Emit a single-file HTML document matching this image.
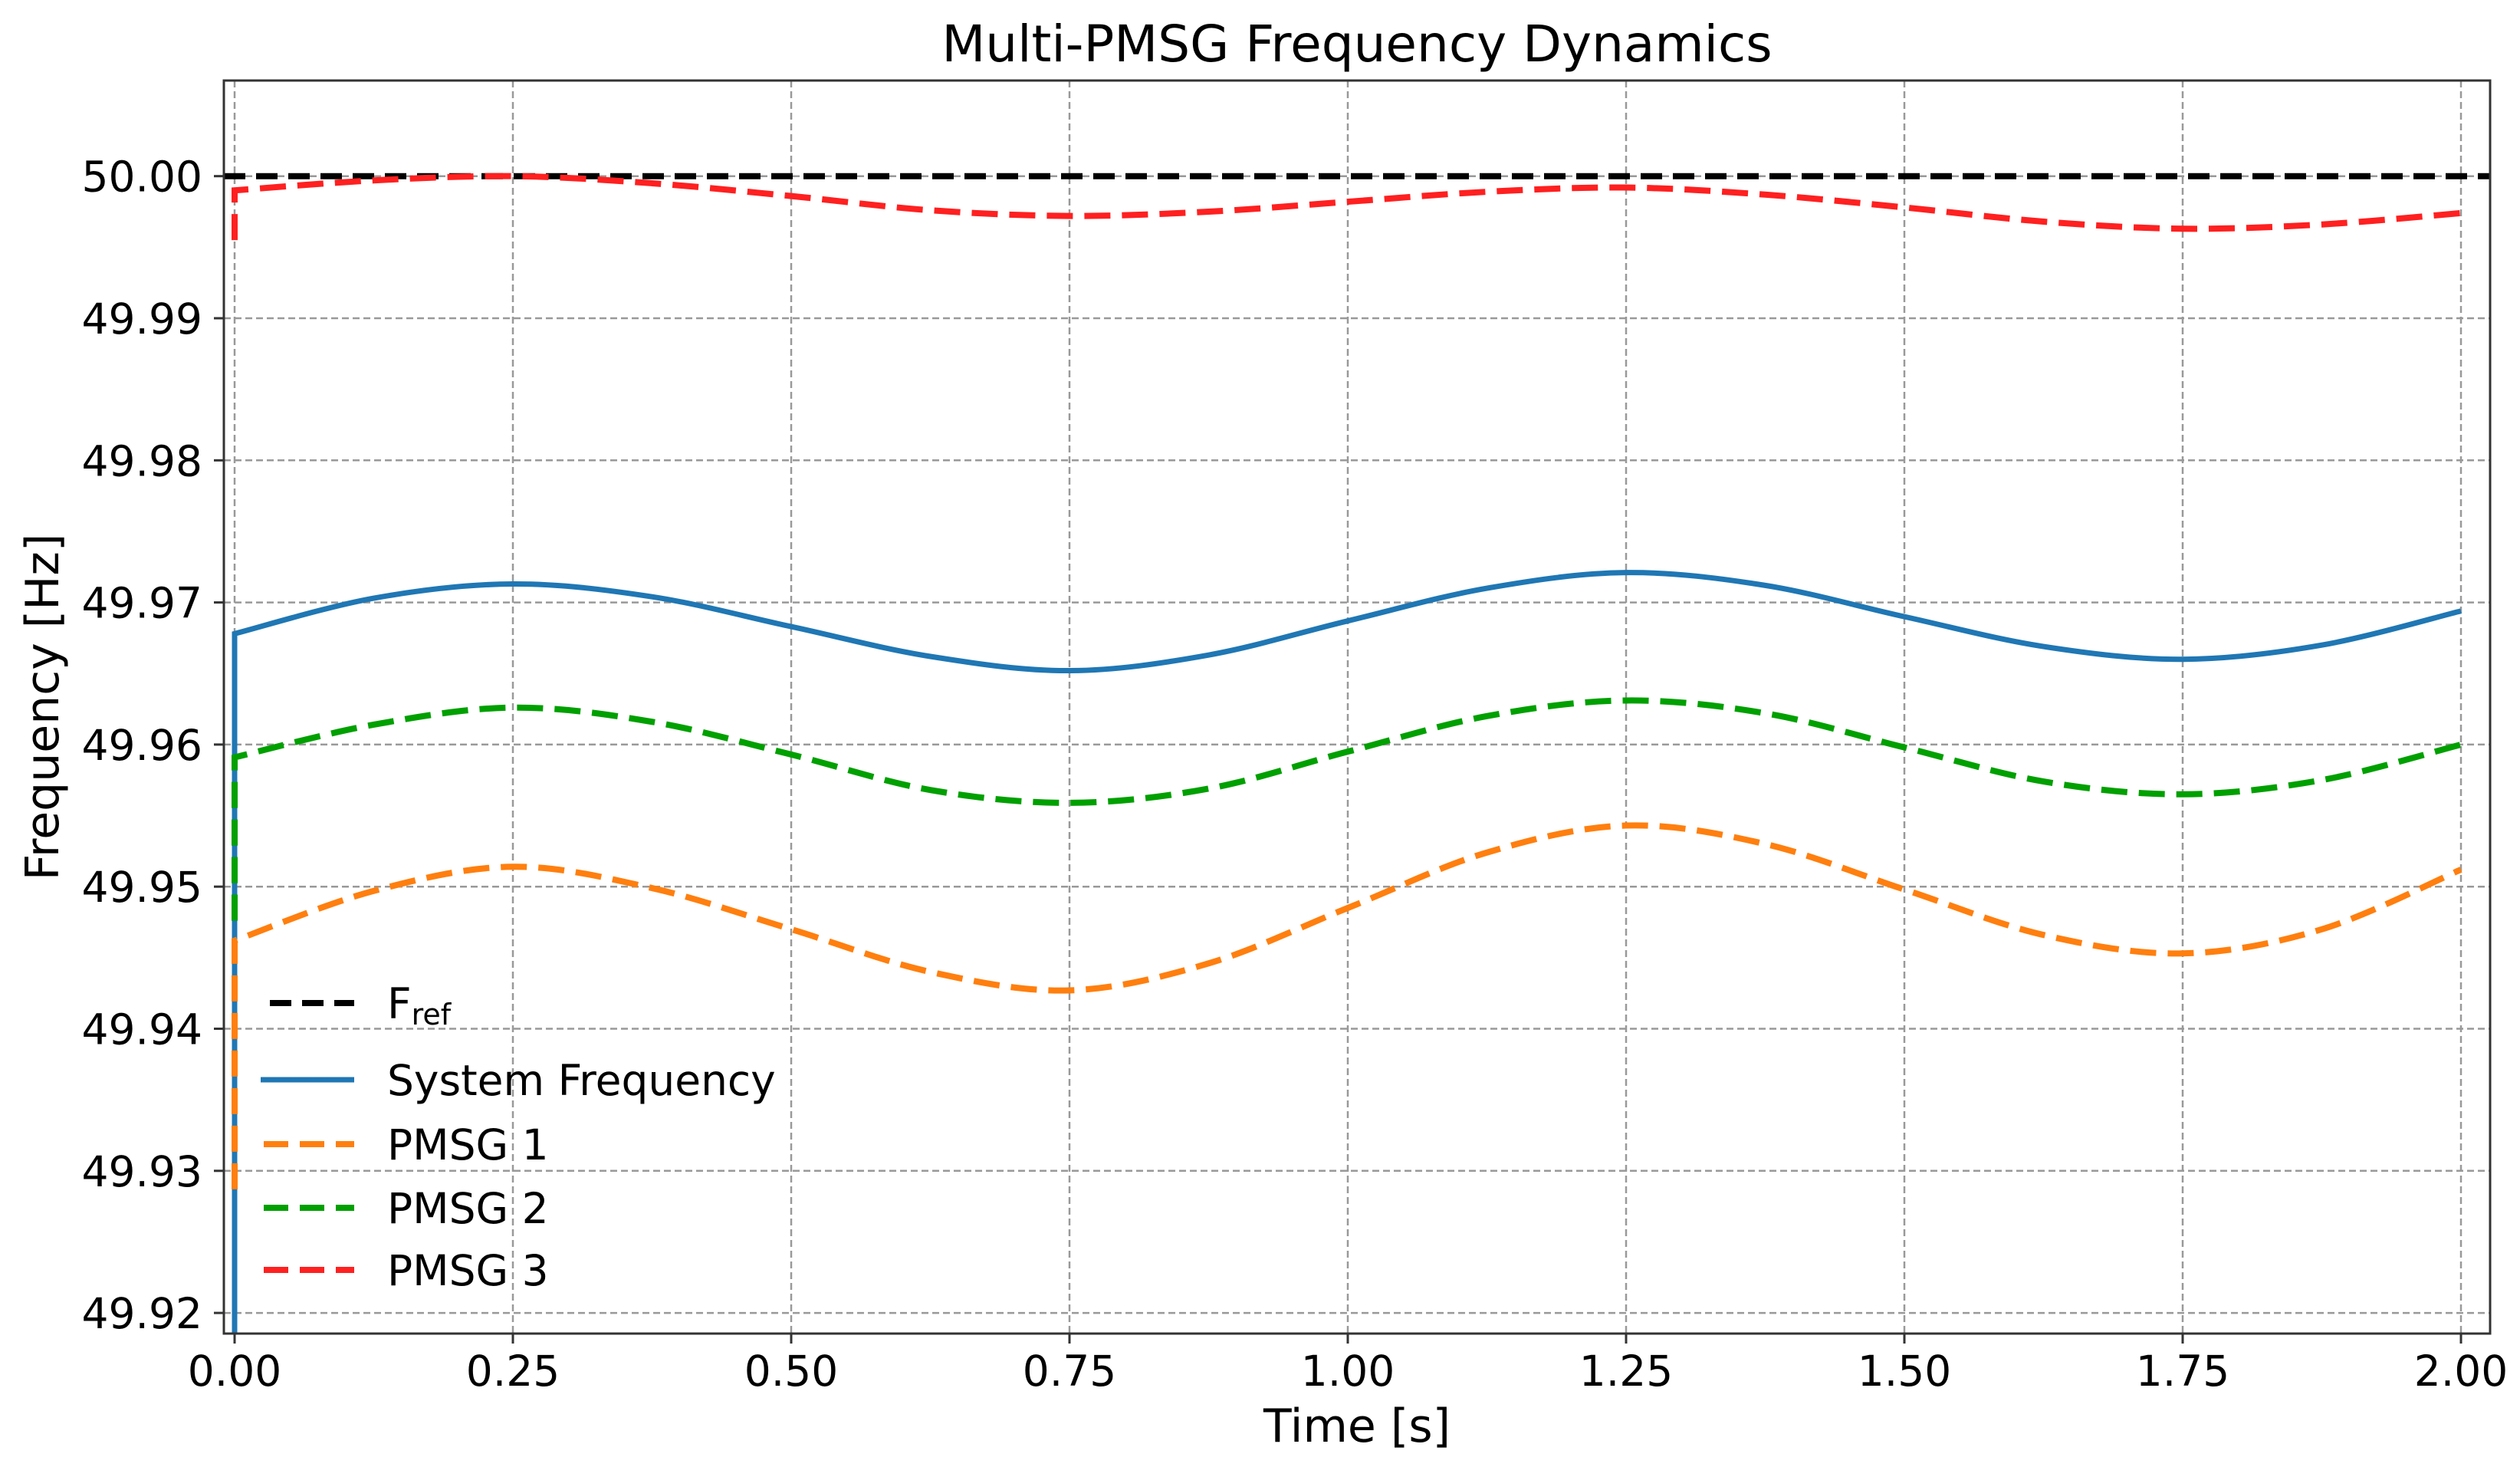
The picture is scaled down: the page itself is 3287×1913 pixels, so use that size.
<!DOCTYPE html>
<html><head><meta charset="utf-8">
<style>
html,body{margin:0;padding:0;background:#fff;width:3287px;height:1913px;overflow:hidden;}
svg{display:block;font-family:"DejaVu Sans","Liberation Sans",sans-serif;}
</style></head>
<body>
<svg id="chart" width="3287" height="1913" viewBox="0 0 3287 1913" xmlns="http://www.w3.org/2000/svg">
<defs><clipPath id="plotclip"><rect x="292" y="105" width="2956" height="1634"/></clipPath></defs>
<rect x="0" y="0" width="3287" height="1913" fill="#fff"/>
<text x="1770" y="80" font-size="66" text-anchor="middle" fill="#000">Multi-PMSG Frequency Dynamics</text>
<g id="grid"></g>
<g id="series" clip-path="url(#plotclip)"></g>
<rect x="292" y="105" width="2956" height="1634" fill="none" stroke="#333" stroke-width="3"/>
<g id="ticks"></g>
<text x="1770" y="1880" font-size="60" text-anchor="middle">Time [s]</text>
<text x="0" y="0" font-size="60" text-anchor="middle" transform="translate(76,922) rotate(-90)">Frequency [Hz]</text>
<g id="legend">
  <g>
    <line x1="352" y1="1308" x2="462" y2="1308" stroke="#000" stroke-width="8" stroke-dasharray="28,14"/>
    <text x="505" y="1328" font-size="55">F<tspan font-size="38" dy="8">ref</tspan></text>
  </g>
  <g>
    <line x1="340" y1="1408" x2="462" y2="1408" stroke="#1f77b4" stroke-width="7"/>
    <text x="505" y="1428" font-size="55">System Frequency</text>
  </g>
  <g>
    <line x1="344" y1="1492" x2="462" y2="1492" stroke="#ff7f0e" stroke-width="8" stroke-dasharray="32,15"/>
    <text x="505" y="1512" font-size="55">PMSG 1</text>
  </g>
  <g>
    <line x1="344" y1="1575" x2="462" y2="1575" stroke="#00a000" stroke-width="8" stroke-dasharray="32,15"/>
    <text x="505" y="1595" font-size="55">PMSG 2</text>
  </g>
  <g>
    <line x1="344" y1="1656" x2="462" y2="1656" stroke="#ff2020" stroke-width="8" stroke-dasharray="32,15"/>
    <text x="505" y="1676" font-size="55">PMSG 3</text>
  </g>
</g>
</svg>
<script>
const times = [0,0.125,0.25,0.375,0.5,0.625,0.75,0.875,1.0,1.125,1.25,1.375,1.5,1.625,1.75,1.875,2.0];
const systemFreq = [49.9678,49.9703,49.9713,49.9704,49.9683,49.9662,49.9652,49.9663,49.9687,49.9710,49.9721,49.9712,49.9690,49.9669,49.9660,49.9670,49.9694];
const pmsg1 = [49.9462,49.9497,49.9514,49.9499,49.9470,49.9440,49.9427,49.9446,49.9485,49.9524,49.9543,49.9530,49.9498,49.9466,49.9453,49.9470,49.9512];
const pmsg2 = [49.9591,49.9614,49.9626,49.9616,49.9593,49.9568,49.9559,49.9569,49.9595,49.9620,49.9631,49.9622,49.9598,49.9574,49.9565,49.9575,49.9600];
const pmsg3 = [49.9990,49.9997,50.0000,49.9995,49.9986,49.9976,49.9972,49.9975,49.9982,49.9989,49.9992,49.9987,49.9978,49.9968,49.9963,49.9966,49.9974];
const initialValues = [49.90, 49.9287, 49.9476, 49.9955];
const fRef = [50.0];
const xTicks = [0,0.25,0.5,0.75,1.0,1.25,1.5,1.75,2.0];
const xTickLabels = ["0.00","0.25","0.50","0.75","1.00","1.25","1.50","1.75","2.00"];
const yTicks = [49.92,49.93,49.94,49.95,49.96,49.97,49.98,49.99,50.00];
const yTickLabels = ["49.92","49.93","49.94","49.95","49.96","49.97","49.98","49.99","50.00"];

const NS = "http://www.w3.org/2000/svg";
const X0 = 306, XS = 1452;
const Y0 = 229.7, YS = 18530;
function xPos(t){ return X0 + t*XS; }
function yPos(v){ return Y0 + (50 - v)*YS; }
function mk(tag, attrs){ const e=document.createElementNS(NS,tag); for(const k in attrs) e.setAttribute(k,attrs[k]); return e; }

const grid = document.getElementById('grid');
const ticks = document.getElementById('ticks');
xTicks.forEach((t,i)=>{
  const g = mk('line',{x1:xPos(t),x2:xPos(t),y1:105,y2:1739,stroke:'#999','stroke-width':2.5,'stroke-dasharray':'9,5'});
  
  
  grid.appendChild(g);
  const tk = mk('line',{x1:xPos(t),x2:xPos(t),y1:1739,y2:1752,stroke:'#333','stroke-width':3});
  
  
  ticks.appendChild(tk);
  const lb = mk('text',{x:xPos(t),y:1807,'font-size':55,'text-anchor':'middle'});
  lb.textContent = xTickLabels[i];
  
  
  ticks.appendChild(lb);
});
yTicks.forEach((v,i)=>{
  const g = mk('line',{x1:292,x2:3248,y1:yPos(v),y2:yPos(v),stroke:'#999','stroke-width':2.5,'stroke-dasharray':'9,5'});
  
  
  grid.appendChild(g);
  const tk = mk('line',{x1:279,x2:292,y1:yPos(v),y2:yPos(v),stroke:'#333','stroke-width':3});
  
  
  ticks.appendChild(tk);
  const lb = mk('text',{x:264,y:yPos(v)+20,'font-size':55,'text-anchor':'end'});
  lb.textContent = yTickLabels[i];
  
  
  ticks.appendChild(lb);
});

function smoothPath(vals, init){
  const pts = times.map((t,i)=>[xPos(t), yPos(vals[i])]);
  let d = 'M'+pts[0][0]+','+yPos(init)+' L'+pts[0][0]+','+pts[0][1];
  for(let i=0;i<pts.length-1;i++){
    const p0=pts[Math.max(0,i-1)], p1=pts[i], p2=pts[i+1], p3=pts[Math.min(pts.length-1,i+2)];
    const c1=[p1[0]+(p2[0]-p0[0])/6, p1[1]+(p2[1]-p0[1])/6];
    const c2=[p2[0]-(p3[0]-p1[0])/6, p2[1]-(p3[1]-p1[1])/6];
    d+=' C'+c1[0]+','+c1[1]+' '+c2[0]+','+c2[1]+' '+p2[0]+','+p2[1];
  }
  return d;
}
const series = document.getElementById('series');
const ref = mk('line',{x1:292,x2:3248,y1:yPos(fRef[0]),y2:yPos(fRef[0]),stroke:'#000','stroke-width':8,'stroke-dasharray':'28,14'});


series.appendChild(ref);
const defs = [
  [systemFreq, initialValues[0], '#1f77b4', 7, null],
  [pmsg1, initialValues[1], '#ff7f0e', 8, '34,15'],
  [pmsg2, initialValues[2], '#00a000', 8, '34,15'],
  [pmsg3, initialValues[3], '#ff2020', 8, '34,15']
];
const names = ['system-frequency-line','pmsg1-line','pmsg2-line','pmsg3-line'];
defs.forEach((s,i)=>{
  const p = mk('path',{d:smoothPath(s[0],s[1]),fill:'none',stroke:s[2],'stroke-width':s[3]});
  if(s[4]) p.setAttribute('stroke-dasharray',s[4]);
  
  
  series.appendChild(p);
});
</script>
</body></html>
